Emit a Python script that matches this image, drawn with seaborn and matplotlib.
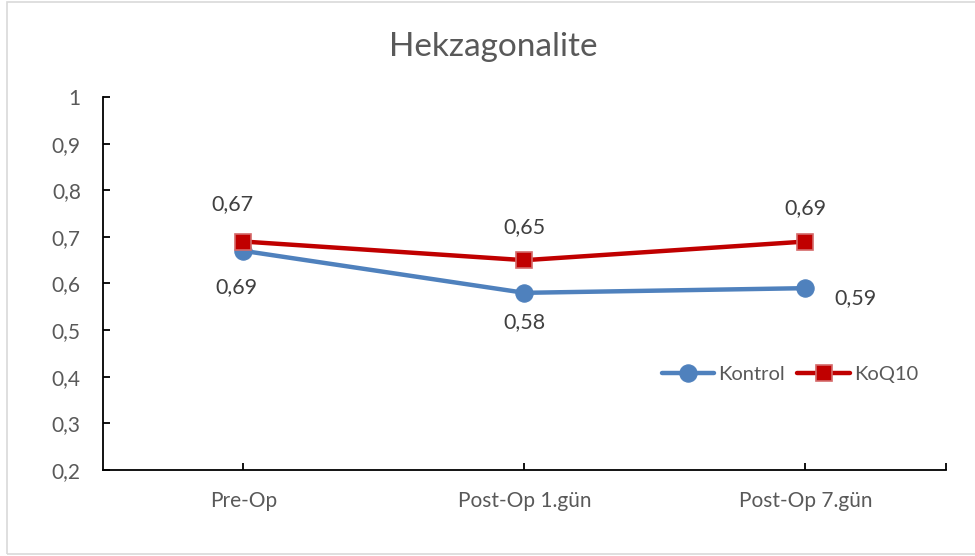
import pandas as pd
import numpy as np
import matplotlib
matplotlib.use("Agg")
import matplotlib.pyplot as plt
from matplotlib.patches import Rectangle
from matplotlib.ticker import FuncFormatter, FixedLocator
import seaborn as sns

# data
categories = ["Pre-Op", "Post-Op 1.gün", "Post-Op 7.gün"]
kontrol = [0.67, 0.58, 0.59]
koq10 = [0.69, 0.65, 0.69]

sns.set_style("white")
plt.rcParams['font.family'] = ['Lato', 'DejaVu Sans']

df = pd.DataFrame({"Zaman": categories, "Kontrol": kontrol, "KoQ10": koq10})

fig = plt.figure(figsize=(9.75, 5.56), dpi=100)
ax = fig.add_axes([103 / 975, 1 - 470 / 556, 843 / 975, 373 / 556])

blue = "#4f81bd"
red = "#c00000"

sns.lineplot(data=df, x="Zaman", y="Kontrol", ax=ax, color=blue, linewidth=3.2,
             marker="o", markersize=12.5, markeredgecolor=blue, label="Kontrol", sort=False)
sns.lineplot(data=df, x="Zaman", y="KoQ10", ax=ax, color=red, linewidth=3.2,
             marker="s", markersize=11.5, markeredgecolor="#d46a6a", markeredgewidth=1.2,
             label="KoQ10", sort=False)

ax.set_xlim(-0.5, 2.5)
ax.set_ylim(0.2, 1.0)
ax.yaxis.set_major_locator(FixedLocator(np.arange(0.2, 1.01, 0.1)))
ax.yaxis.set_major_formatter(FuncFormatter(lambda v, p: f"{v:.1f}".rstrip("0").rstrip(".").replace(".", ",")))
ax.set_xlabel("")
ax.set_ylabel("")

for s in ["top", "right"]:
    ax.spines[s].set_visible(False)
for s in ["left", "bottom"]:
    ax.spines[s].set_color("black")
    ax.spines[s].set_linewidth(1.3)

ax.tick_params(axis="y", direction="in", length=5, width=1.3, color="black",
               labelsize=15, labelcolor="#595959", pad=16, left=True)
ax.tick_params(axis="x", direction="in", length=5, width=1.3, color="black",
               labelsize=15, labelcolor="#595959", pad=15, bottom=True)
ax.set_xticks([0, 1, 2, 2.5], categories + [""])

fig.text(0.506, 1 - 47 / 556, "Hekzagonalite", fontsize=24, color="#595959",
         ha="center", va="center")

# data labels (positions as in the original)
offsets_k = [(-8, 34), (0, -21), (36, -7)]
offsets_q = [(-5, -33), (0, 24), (0, 24)]
for i, (v, off) in enumerate(zip(kontrol, offsets_k)):
    ax.annotate(f"{v:.2f}".replace(".", ","), (i, v), xytext=off, textcoords="offset points",
                ha="center", va="center", fontsize=15.5, color="#404040")
for i, (v, off) in enumerate(zip(koq10, offsets_q)):
    ax.annotate(f"{v:.2f}".replace(".", ","), (i, v), xytext=off, textcoords="offset points",
                ha="center", va="center", fontsize=15.5, color="#404040")

ax.legend(loc="center", bbox_to_anchor=(0.815, 0.255), ncol=2, frameon=False,
          fontsize=14.5, labelcolor="#595959", handlelength=2.6, handletextpad=0.2,
          columnspacing=0.6)

fig.add_artist(Rectangle((7 / 975, 2 / 556), 1.0, 552 / 556, transform=fig.transFigure,
                         fill=False, edgecolor="#d9d9d9", linewidth=1.2))

fig.savefig("out.png", dpi=100)
